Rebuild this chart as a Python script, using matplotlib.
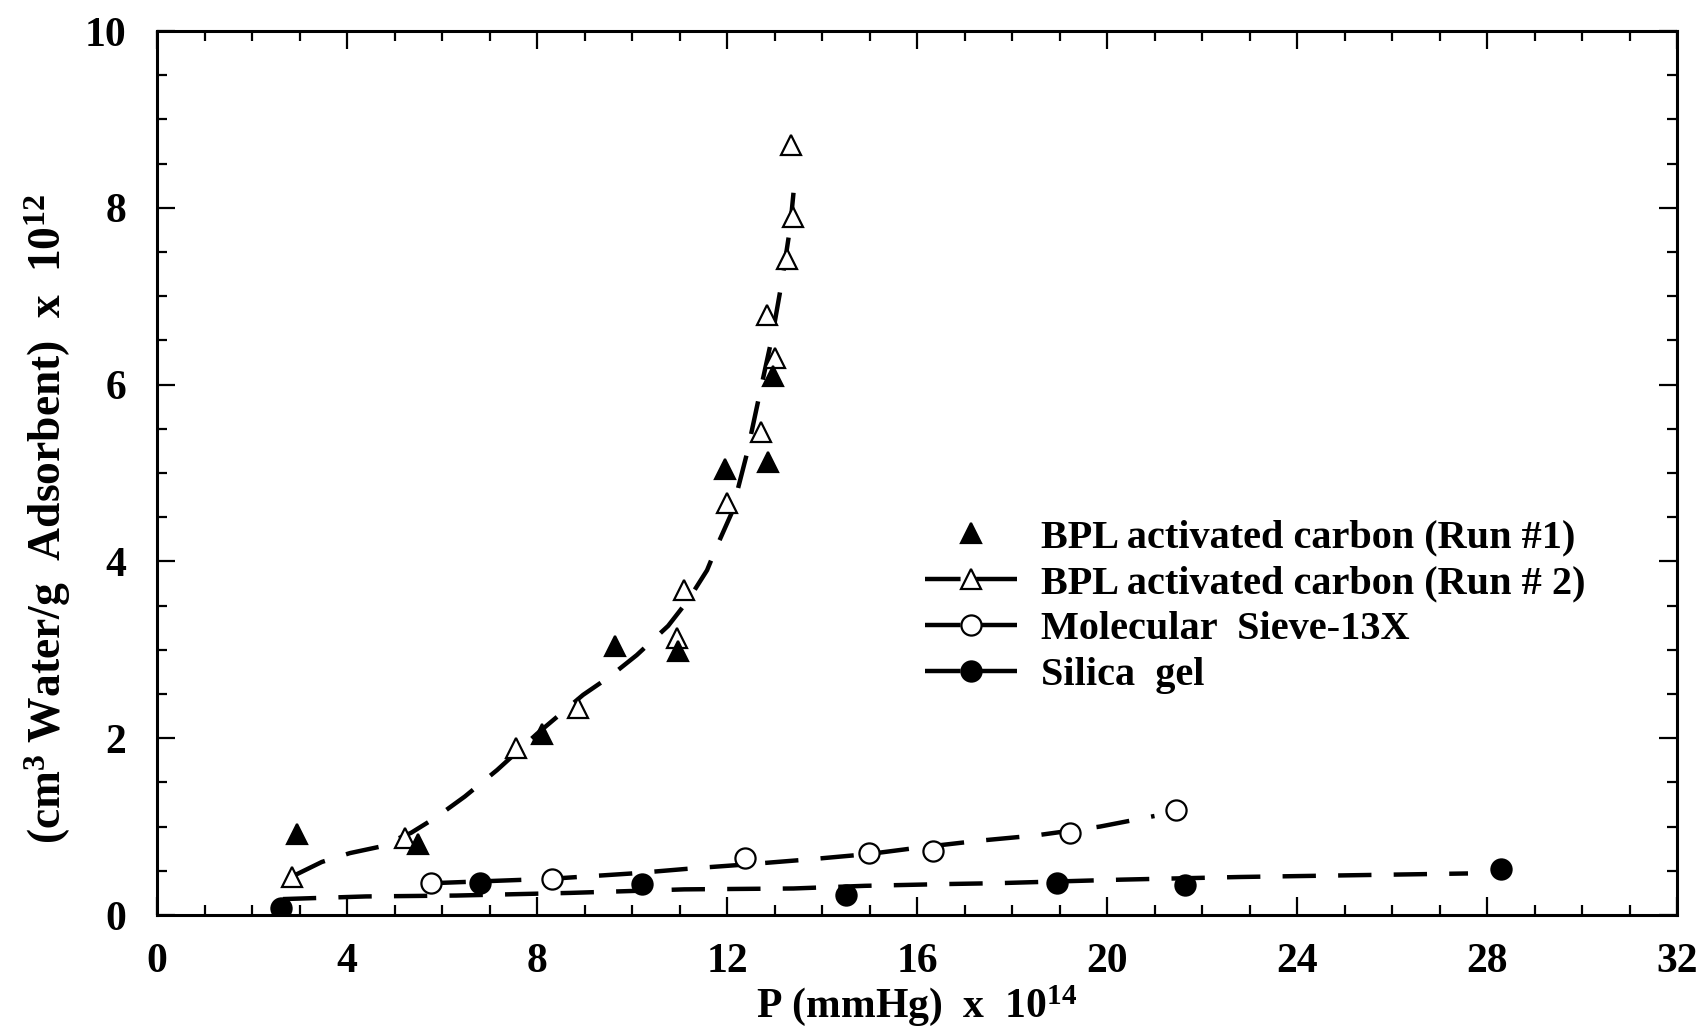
import numpy as np
import matplotlib
matplotlib.use('Agg')
import matplotlib.pyplot as plt
from matplotlib.lines import Line2D
from matplotlib.ticker import MultipleLocator

plt.rcParams['font.family'] = ['Liberation Serif', 'DejaVu Serif']
plt.rcParams['font.weight'] = 'bold'
plt.rcParams['mathtext.fontset'] = 'custom'
plt.rcParams['mathtext.rm'] = 'Liberation Serif:bold'
plt.rcParams['mathtext.bf'] = 'Liberation Serif:bold'
plt.rcParams['mathtext.it'] = 'Liberation Serif:bold:italic'
plt.rcParams['mathtext.default'] = 'rm'

# BPL activated carbon, run 1 (filled triangles)
run1_x = [2.95, 5.49, 8.10, 9.64, 10.97, 11.96, 12.86, 12.97]
run1_y = [0.92, 0.80, 2.05, 3.04, 2.99, 5.04, 5.13, 6.10]

# BPL activated carbon, run 2 (open triangles)
run2_x = [2.85, 5.23, 7.55, 8.87, 10.94, 11.09, 11.99, 12.71, 13.01, 12.85, 13.27, 13.39, 13.35]
run2_y = [0.43, 0.87, 1.89, 2.34, 3.13, 3.68, 4.66, 5.46, 6.30, 6.79, 7.42, 7.90, 8.71]

# dashed fit through BPL data
bpl_fit_x = [2.90, 3.47, 4.06, 4.67, 5.35, 5.89, 6.48, 7.16, 8.00, 8.97, 9.54, 10.10,
             10.76, 11.18, 11.58, 11.81, 12.10, 12.42, 12.69, 12.95, 13.16, 13.33, 13.40]
bpl_fit_y = [0.45, 0.60, 0.70, 0.77, 0.93, 1.11, 1.34, 1.64, 2.05, 2.49, 2.70, 2.94,
             3.27, 3.56, 3.90, 4.20, 4.55, 5.22, 5.90, 6.54, 7.18, 7.78, 8.17]

# Molecular sieve-13X (open circles)
sieve_x = [5.77, 8.32, 12.37, 14.98, 16.34, 19.23, 21.45]
sieve_y = [0.36, 0.41, 0.64, 0.70, 0.72, 0.93, 1.19]
sieve_fit_x = [5.80, 8.30, 10.00, 11.33, 12.36, 13.75, 14.99, 16.00, 17.30, 18.50, 19.85, 21.00]
sieve_fit_y = [0.36, 0.41, 0.47, 0.53, 0.57, 0.63, 0.69, 0.76, 0.84, 0.90, 1.00, 1.12]

# Silica gel (filled circles)
silica_x = [2.62, 6.80, 10.22, 14.50, 18.95, 21.64, 28.30]
silica_y = [0.08, 0.36, 0.35, 0.23, 0.36, 0.34, 0.52]
silica_fit_x = [2.65, 4.40, 6.30, 8.70, 11.10, 13.40, 14.90, 16.60, 17.70, 20.30, 22.80, 25.20, 27.60]
silica_fit_y = [0.18, 0.21, 0.22, 0.25, 0.29, 0.30, 0.33, 0.35, 0.36, 0.40, 0.43, 0.45, 0.47]

labels = ['BPL activated carbon (Run #1)', 'BPL activated carbon (Run # 2)',
          'Molecular  Sieve-13X', 'Silica  gel']

W, H = 1707, 1033
fig = plt.figure(figsize=(W / 100, H / 100), dpi=100)
ax = fig.add_axes([157 / W, 1 - 915 / H, 1520 / W, 884 / H])

LW = 3.2
DASH = (7.5, 5)
tri = dict(marker='^', ms=14, mec='k', mew=1.6, ls='none')
circ = dict(marker='o', ms=14.5, mec='k', mew=1.6, ls='none')

for fx, fy in [(bpl_fit_x, bpl_fit_y), (sieve_fit_x, sieve_fit_y), (silica_fit_x, silica_fit_y)]:
    ax.plot(fx, fy, color='k', lw=LW, dashes=DASH, zorder=2)

ax.plot(run2_x, run2_y, mfc='white', zorder=3, **tri)
ax.plot(run1_x, run1_y, mfc='k', zorder=4, **tri)
ax.plot(sieve_x, sieve_y, mfc='white', zorder=3, **circ)
ax.plot(silica_x, silica_y, mfc='k', zorder=3, **circ)

ax.set_xlim(0, 32)
ax.set_ylim(0, 10)
ax.xaxis.set_major_locator(MultipleLocator(4))
ax.xaxis.set_minor_locator(MultipleLocator(1))
ax.yaxis.set_major_locator(MultipleLocator(2))
ax.yaxis.set_minor_locator(MultipleLocator(0.5))
ax.tick_params(which='both', direction='in', top=True, right=True, width=1.6, colors='k')
ax.tick_params(which='major', length=13, labelsize=30)
ax.tick_params(which='minor', length=7.5)
ax.tick_params(axis='x', which='major', pad=20)
ax.tick_params(axis='y', which='major', pad=22)
for s in ax.spines.values():
    s.set_linewidth(2.2)

ax.set_xlabel('P (mmHg)  x  10$^{14}$', fontsize=30, fontweight='bold')
ax.set_ylabel('(cm$^{3}$ Water/g  Adsorbent)  x  10$^{12}$', fontsize=32.8, fontweight='bold')
ax.xaxis.set_label_coords(0.5, -0.077)
ax.yaxis.set_label_coords(-0.055, 0.448)

ldash = (8, 3.5, 12, 2)
handles = [
    Line2D([], [], color='k', mfc='k', **tri),
    Line2D([], [], color='k', lw=LW, dashes=ldash, marker='^', ms=14, mec='k', mew=1.6, mfc='white'),
    Line2D([], [], color='k', lw=LW, dashes=ldash, marker='o', ms=14.5, mec='k', mew=1.6, mfc='white'),
    Line2D([], [], color='k', lw=LW, dashes=ldash, marker='o', ms=14.5, mec='k', mew=1.6, mfc='k'),
]
ax.legend(handles, labels, loc='upper left', bbox_to_anchor=(0.505, 0.448),
          frameon=False, fontsize=29, numpoints=1, handlelength=2.3,
          handletextpad=0.6, labelspacing=0.22, borderpad=0, borderaxespad=0)

fig.savefig('out.png', dpi=100, facecolor='white')
